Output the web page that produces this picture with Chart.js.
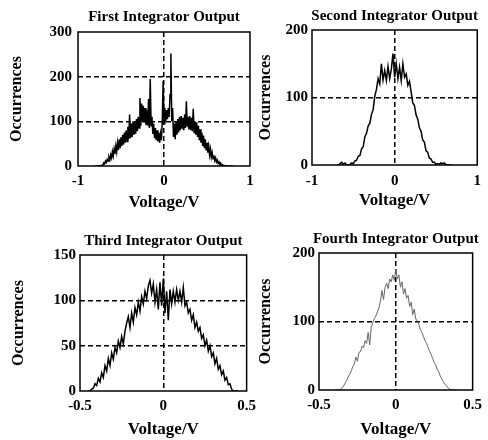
<!DOCTYPE html>
<html>
<head>
<meta charset="utf-8">
<script src="https://cdn.jsdelivr.net/npm/chart.js@4"></script>
<style>
  html, body { margin: 0; padding: 0; background: #fff; }
  #wrap { position: relative; width: 488px; height: 440px; overflow: hidden; }
  canvas { position: absolute; }
</style>
</head>
<body>
<div id="wrap">
  <canvas id="c1" width="262" height="215" style="left:0;top:0"></canvas>
  <canvas id="c2" width="248" height="215" style="left:240px;top:0"></canvas>
  <canvas id="c3" width="262" height="220" style="left:0;top:220px"></canvas>
  <canvas id="c4" width="248" height="220" style="left:240px;top:220px"></canvas>
</div>
<script>
// histogram counts, one value per voltage bin
const firstStart = -0.8, firstStep = 0.01;
const firstCounts = [0, 0, 0, 0, 0,
  0, 1, 0, 2, 3, 7, 5, 11, 8, 15,
  11, 20, 14, 25, 18, 32, 22, 38, 27, 45,
  32, 52, 36, 60, 40, 64, 45, 70, 48, 75,
  52, 80, 55, 88, 60, 115, 62, 95, 65, 100,
  70, 98, 72, 105, 78, 110, 85, 152, 90, 140,
  100, 135, 98, 130, 92, 125, 90, 150, 85, 195,
  90, 110, 72, 95, 62, 85, 58, 80, 55, 75,
  52, 72, 58, 100, 190, 95, 130, 100, 125, 105,
  130, 110, 160, 252, 100, 130, 65, 95, 60, 100,
  70, 105, 75, 110, 80, 112, 85, 108, 80, 115,
  85, 145, 88, 110, 82, 112, 80, 108, 78, 128,
  75, 100, 70, 98, 65, 90, 58, 82, 52, 75,
  45, 68, 40, 60, 35, 52, 30, 44, 25, 38,
  20, 30, 16, 24, 12, 18, 9, 13, 6, 9,
  4, 6, 2, 3, 1, 1,
  0, 0, 0, 0, 0, 0, 0, 0, 0, 0];

const secondStart = -0.7, secondStep = 0.02;
const secondCounts = [0, 0, 2, 4, 1, 3, 0, 0, 1, 3, 2, 6, 7, 13, 14, 24, 27, 42, 47, 58,
  62, 75, 82, 102, 112, 128, 120, 150, 126, 140, 125, 146, 128, 142, 165, 130, 150, 128, 145, 125,
  150, 130, 135, 118, 124, 108, 92, 88, 74, 68, 55, 50, 37, 34, 21, 19, 10, 9, 4, 4,
  1, 2, 1, 3, 2, 3, 1, 0, 0, 0, 0];

const thirdStart = -0.45, thirdStep = 0.01;
const thirdCounts = [0, 0, 2, 3, 8, 6, 14, 10, 20, 15,
  28, 22, 36, 28, 42, 35, 48, 42, 55, 48,
  60, 52, 66, 75, 82, 70, 86, 76, 92, 84,
  98, 88, 104, 96, 110, 102, 116, 122, 108, 118,
  98, 112, 90, 120, 94, 124, 86, 110, 78, 112,
  96, 110, 98, 112, 100, 110, 98, 114, 94, 98,
  86, 90, 78, 84, 70, 76, 66, 70, 58, 62,
  50, 56, 44, 50, 38, 42, 30, 36, 24, 28,
  18, 22, 12, 15, 7, 8, 2, 0, 0, 0, 0];

const fourthStart = -0.4, fourthStep = 0.01;
const fourthCounts = [0, 0, 0, 0, 1, 3, 6, 10, 14, 19, 23, 28, 34, 38, 48, 42, 55, 56, 64, 62,
  72, 68, 84, 66, 92, 98, 104, 108, 114, 120, 130, 145, 132, 150, 156, 148, 162, 158, 168, 160,
  176, 162, 168, 150, 158, 140, 148, 134, 138, 122, 128, 110, 118, 104, 100, 96, 88, 84, 78, 72,
  68, 62, 56, 52, 46, 40, 36, 30, 26, 20, 16, 12, 8, 6, 3, 1, 0, 0, 0, 0, 0];

const xTicksWide = [-1, 0, 1];
const xTicksNarrow = [-0.5, 0, 0.5];
const yTicks1 = [0, 100, 200, 300];
const yTicks2 = [0, 100, 200];
const yTicks3 = [0, 50, 100, 150];
const yTicks4 = [0, 100, 200];

const SERIF = "'Liberation Serif', 'Times New Roman', serif";

// black box round the plot area, and the panel title centred over it
const frame = {
  id: 'frame',
  afterDraw(chart, args, opts) {
    const { ctx, chartArea: a } = chart;
    ctx.save();
    ctx.strokeStyle = '#000';
    ctx.lineWidth = 1.5;
    ctx.strokeRect(a.left, a.top, a.right - a.left, a.bottom - a.top);
    ctx.fillStyle = '#000';
    ctx.font = 'bold 15px ' + SERIF;
    ctx.textAlign = 'center';
    ctx.textBaseline = 'middle';
    ctx.fillText(opts.title, (a.left + a.right) / 2, opts.titleY);
    ctx.restore();
  }
};

function panel(id, p) {
  const xMin = p.xTicks[0], xMax = p.xTicks[p.xTicks.length - 1];
  const yMin = p.yTicks[0], yMax = p.yTicks[p.yTicks.length - 1];
  new Chart(document.getElementById(id), {
    type: 'line',
    data: {
      datasets: [{
        data: p.counts.map((c, i) => ({ x: p.start + i * p.step, y: c })),
        borderColor: p.color,
        borderWidth: p.lineWidth,
        pointRadius: 0,
        tension: 0
      }]
    },
    options: {
      responsive: false,
      animation: false,
      devicePixelRatio: 1,
      layout: { padding: { left: 0, right: p.padRight, top: p.top, bottom: 0 } },
      plugins: {
        legend: { display: false },
        tooltip: { enabled: false },
        frame: { title: p.title, titleY: p.titleY }
      },
      scales: {
        x: {
          type: 'linear',
          min: xMin,
          max: xMax,
          afterBuildTicks: s => { s.ticks = p.xTicks.map(v => ({ value: v })); },
          afterFit: s => { s.height = p.xHeight; },
          grid: {
            drawTicks: false,
            lineWidth: 1.5,
            color: c => (c.tick && c.tick.value > xMin && c.tick.value < xMax) ? '#000' : 'rgba(0,0,0,0)'
          },
          border: { display: false, dash: [5, 3] },
          ticks: {
            padding: p.xTickPad,
            color: '#000',
            maxRotation: 0,
            font: { family: SERIF, size: 15, weight: 'bold' },
            callback: v => String(v)
          },
          title: {
            display: true,
            text: 'Voltage/V',
            color: '#000',
            font: { family: SERIF, size: 17, weight: 'bold' },
            padding: { top: 0, bottom: p.xTitleBottom }
          }
        },
        y: {
          min: yMin,
          max: yMax,
          afterBuildTicks: s => { s.ticks = p.yTicks.map(v => ({ value: v })); },
          afterFit: s => { s.width = p.yWidth; },
          grid: {
            drawTicks: false,
            lineWidth: 1.5,
            color: c => (c.tick && c.tick.value > yMin && c.tick.value < yMax) ? '#000' : 'rgba(0,0,0,0)'
          },
          border: { display: false, dash: [5, 3] },
          ticks: {
            padding: p.yTickPad,
            color: '#000',
            font: { family: SERIF, size: 15, weight: 'bold' },
            callback: v => String(v)
          },
          title: {
            display: true,
            text: 'Occurrences',
            color: '#000',
            font: { family: SERIF, size: 16, weight: 'bold' },
            padding: { top: p.yTitleLeft, bottom: 0 }
          }
        }
      }
    },
    plugins: [frame]
  });
}

panel('c1', {
  title: 'First Integrator Output', counts: firstCounts, start: firstStart, step: firstStep,
  xTicks: xTicksWide, yTicks: yTicks1, color: '#000', lineWidth: 1.5,
  padRight: 12, top: 32, titleY: 17, yWidth: 78, xHeight: 49,
  xTickPad: 6, xTitleBottom: 2, yTickPad: 6, yTitleLeft: 7
});
panel('c2', {
  title: 'Second Integrator Output', counts: secondCounts, start: secondStart, step: secondStep,
  xTicks: xTicksWide, yTicks: yTicks2, color: '#000', lineWidth: 1.5,
  padRight: 10, top: 30, titleY: 16, yWidth: 72, xHeight: 50,
  xTickPad: 7, xTitleBottom: 4, yTickPad: 4, yTitleLeft: 16
});
panel('c3', {
  title: 'Third Integrator Output', counts: thirdCounts, start: thirdStart, step: thirdStep,
  xTicks: xTicksNarrow, yTicks: yTicks3, color: '#000', lineWidth: 1.5,
  padRight: 11, top: 35, titleY: 21, yWidth: 80, xHeight: 49,
  xTickPad: 6, xTitleBottom: 0, yTickPad: 4, yTitleLeft: 9
});
panel('c4', {
  title: 'Fourth Integrator Output', counts: fourthCounts, start: fourthStart, step: fourthStep,
  xTicks: xTicksNarrow, yTicks: yTicks4, color: '#666', lineWidth: 1,
  padRight: 9, top: 33, titleY: 19, yWidth: 79, xHeight: 50,
  xTickPad: 6, xTitleBottom: 0, yTickPad: 4, yTitleLeft: 16
});
</script>
</body>
</html>
